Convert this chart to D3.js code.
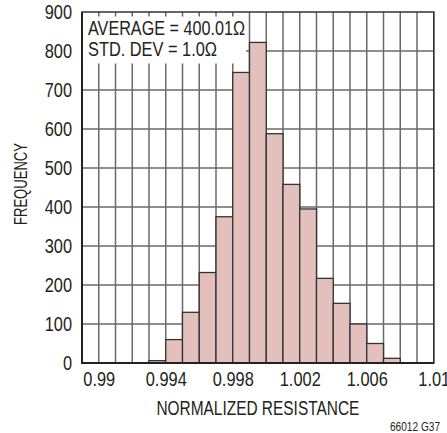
<!DOCTYPE html>
<html>
<head>
<meta charset="utf-8">
<script src="https://cdn.jsdelivr.net/npm/d3@7"></script>
<style>
  body { margin: 0; background: #fff; }
  svg text { font-family: "Liberation Sans", Arial, sans-serif; fill: #231f20; }
</style>
</head>
<body>
<div id="chart"></div>
<script>
// histogram bins (left edge of each 0.001 wide bin) and counts
var binStarts = [0.989, 0.990, 0.991, 0.992, 0.993, 0.994, 0.995, 0.996, 0.997, 0.998,
                 0.999, 1.000, 1.001, 1.002, 1.003, 1.004, 1.005, 1.006, 1.007, 1.008, 1.009];
var counts = [0, 0, 0, 0, 6, 60, 130, 232, 375, 745,
              822, 588, 458, 395, 217, 153, 100, 50, 12, 0, 0];
var binWidth = 0.001;

var xTicks = [0.99, 0.994, 0.998, 1.002, 1.006, 1.01];
var xTickLabels = ["0.99", "0.994", "0.998", "1.002", "1.006", "1.01"];
var yTicks = [0, 100, 200, 300, 400, 500, 600, 700, 800, 900];
var statLines = ["AVERAGE = 400.01\u03A9", "STD. DEV = 1.0\u03A9"];

var width = 447, height = 433;
var mLeft = 82, mRight = 433.75, mTop = 12, mBottom = 363;

var svg = d3.select("#chart").append("svg")
  .attr("width", width)
  .attr("height", height);

var x = d3.scaleLinear().domain([0.989, 1.010]).range([mLeft, mRight]);
var y = d3.scaleLinear().domain([0, 900]).range([mBottom, mTop]);

//squeeze text horizontally, the original uses a condensed face
function narrow(sel, k, target) {
  sel.each(function(d, i) {
    var w = this.getComputedTextLength();
    var t = target ? (Array.isArray(target) ? target[i] : target) : w * k;
    d3.select(this).attr("textLength", t).attr("lengthAdjust", "spacingAndGlyphs");
  });
}

//grid lines
var edges = binStarts.concat([binStarts[binStarts.length - 1] + binWidth]);
svg.append("g").selectAll("line")
  .data(edges)
  .enter().append("line")
  .attr("x1", function(d) { return x(d); })
  .attr("x2", function(d) { return x(d); })
  .attr("y1", mTop).attr("y2", mBottom)
  .attr("stroke", "#6a6a6a").attr("stroke-width", 1.5);

svg.append("g").selectAll("line")
  .data(yTicks.slice(1, -1))
  .enter().append("line")
  .attr("x1", mLeft).attr("x2", mRight)
  .attr("y1", function(d) { return y(d); })
  .attr("y2", function(d) { return y(d); })
  .attr("stroke", "#6a6a6a").attr("stroke-width", 1.5);

//bars
svg.append("g").selectAll("rect")
  .data(binStarts.map(function(b, i) { return { x0: b, count: counts[i] }; })
    .filter(function(d) { return d.count > 0; }))
  .enter().append("rect")
  .attr("x", function(d) { return x(d.x0); })
  .attr("width", function(d) { return x(d.x0 + binWidth) - x(d.x0); })
  .attr("y", function(d) { return y(d.count); })
  .attr("height", function(d) { return y(0) - y(d.count); })
  .attr("fill", "#e3c0bb")
  .attr("stroke", "#333")
  .attr("stroke-width", 1.3);

//stats box
svg.append("rect")
  .attr("x", mLeft + 1).attr("y", 16.5)
  .attr("width", 163).attr("height", 47)
  .attr("fill", "#fff");

var stats = svg.append("g").selectAll("text")
  .data(statLines)
  .enter().append("text")
  .attr("x", 88)
  .attr("y", function(d, i) { return 34.5 + i * 21; })
  .style("font-size", "19.5px")
  .text(function(d) { return d; });
narrow(stats, 0, [157, 129]);

//frame
svg.append("rect")
  .attr("x", mLeft).attr("y", mTop)
  .attr("width", mRight - mLeft).attr("height", mBottom - mTop)
  .attr("fill", "none").attr("stroke", "#333").attr("stroke-width", 1.5);
svg.append("path")
  .attr("d", "M" + mLeft + "," + mTop + "V" + mBottom + "H" + mRight)
  .attr("fill", "none").attr("stroke", "#222").attr("stroke-width", 2);

//axes
var yAxis = svg.append("g")
  .attr("transform", "translate(" + mLeft + ",0)")
  .call(d3.axisLeft(y).tickValues(yTicks).tickSize(0).tickPadding(10));
var xAxis = svg.append("g")
  .attr("transform", "translate(0," + mBottom + ")")
  .call(d3.axisBottom(x).tickValues(xTicks).tickSize(0).tickPadding(9.5)
    .tickFormat(function(d, i) { return xTickLabels[i]; }));
[yAxis, xAxis].forEach(function(a) {
  a.attr("font-family", null).attr("font-size", null);
  a.select(".domain").remove();
  a.selectAll("text").style("font-size", "19.5px").attr("fill", "#231f20");
  narrow(a.selectAll("text"), 0.84);
});

//titles
var xTitle = svg.append("text")
  .attr("x", (mLeft + mRight) / 2).attr("y", 415)
  .attr("text-anchor", "middle")
  .style("font-size", "19.5px")
  .text("NORMALIZED RESISTANCE");
narrow(xTitle, 0, 203);

var yTitle = svg.append("text")
  .attr("transform", "translate(27,184) rotate(-90)")
  .attr("text-anchor", "middle")
  .style("font-size", "19px")
  .text("FREQUENCY");
narrow(yTitle, 0, 82);

var note = svg.append("text")
  .attr("x", 440).attr("y", 431)
  .attr("text-anchor", "end")
  .style("font-size", "13.5px")
  .text("66012 G37");
narrow(note, 0, 50);
</script>
</body>
</html>
